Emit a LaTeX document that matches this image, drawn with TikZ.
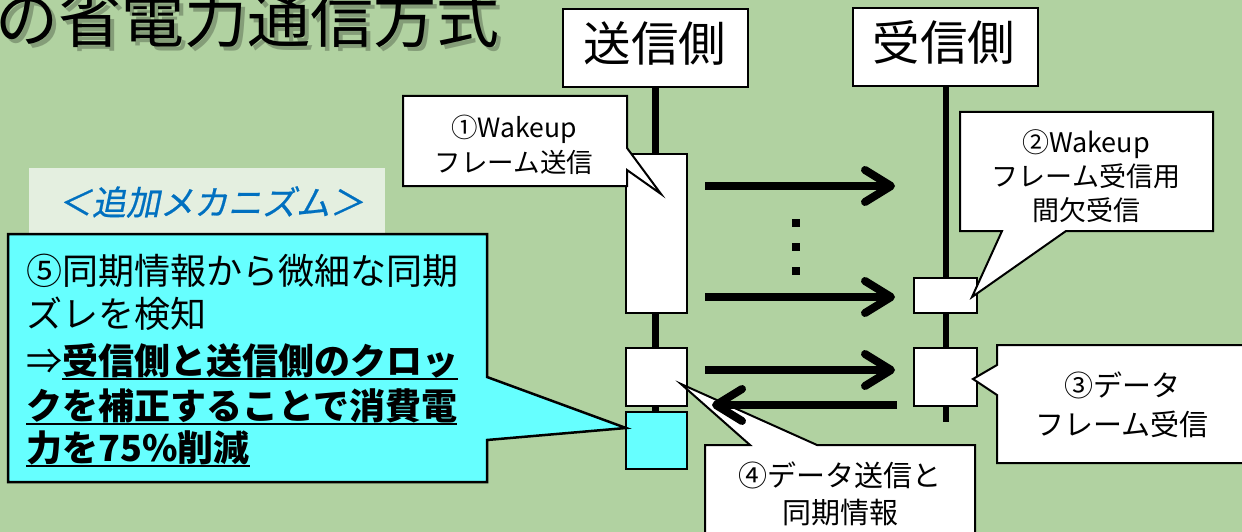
\documentclass[tikz,border=0pt]{standalone}
\usepackage{fontspec}
\setmainfont{Noto Sans CJK JP}
\newfontfamily\jpit[FakeSlant=0.2,FakeBold=0.6]{Noto Sans CJK JP}
\usetikzlibrary{arrows.meta}
\definecolor{bg}{RGB}{177,210,161}
\definecolor{cyanfill}{RGB}{102,255,255}
\definecolor{labelbg}{RGB}{228,239,224}
\definecolor{labelblue}{RGB}{0,112,192}
\newcommand{\myunder}[1]{\setbox0\hbox{#1}\rlap{\rule[-6pt]{\wd0}{2pt}}\box0}
\tikzset{
  hdrbox/.style={draw=black,line width=2pt,fill=white,minimum width=185pt,minimum height=78pt,inner sep=0pt},
  hdrtext/.style={inner sep=0pt,font=\fontsize{47.5}{47.5}\selectfont},
  life/.style={line width=6.5pt},
  actbox/.style={draw=black,line width=2.2pt,fill=white,inner sep=0pt},
  callout/.style={draw=black,line width=2pt,fill=white,line join=miter},
  ctext/.style={inner sep=0pt,align=center},
  msg/.style={line width=8pt,-{Straight Barb[length=26pt,width=32pt,round]}},
  five/.style={inner sep=0pt,anchor=base west,font=\fontsize{36}{36}\selectfont},
}
\begin{document}
\begin{tikzpicture}[x=1pt,y=-1pt]
\clip (0,0) rectangle (1242,532);
\fill[bg] (0,0) rectangle (1242,532);
% title with shadow
\node[anchor=base east,inner sep=0pt,text=black,opacity=0.25,font=\fontsize{63}{63}\selectfont] (titleshadow) at (503.5,46.5) {の省電力通信方式};
\node[anchor=base east,inner sep=0pt,font=\fontsize{63}{63}\selectfont] (title) at (500,43) {の省電力通信方式};
% headers
\node[hdrbox] (sendhdr) at (655.5,48) {};
\node[hdrtext] (sendtxt) at (655,43) {送信側};
\node[hdrbox] (recvhdr) at (945,47) {};
\node[hdrtext] (recvtxt) at (944,42) {受信側};
% lifelines
\coordinate (sendend) at (655.5,440);
\coordinate (recvend) at (946,422);
\draw[life] (sendhdr.south) -- (sendend);
\draw[life] (946,86) -- (recvend);
% activation boxes
\node[actbox,minimum width=61pt,minimum height=159pt] (sb1) at (656.5,233.5) {};
\node[actbox,minimum width=61pt,minimum height=58pt] (sb2) at (656.5,377) {};
\node[actbox,fill=cyanfill,minimum width=61pt,minimum height=57pt] (sb3) at (656.5,440.5) {};
\node[actbox,minimum width=63pt,minimum height=35pt] (rb1) at (945.5,295.5) {};
\node[actbox,minimum width=63pt,minimum height=58pt] (rb2) at (945.5,377) {};
% mechanism label
\node[fill=labelbg,minimum width=356pt,minimum height=65pt,inner sep=0pt] (mechbox) at (207,200.5) {};
\node[inner sep=0pt,text=labelblue,font=\jpit\fontsize{34}{34}\selectfont] (mechtxt) at (211,202) {＜追加メカニズム＞};
% callout 5
\draw[callout,fill=cyanfill,line width=2.5pt] (8,234) -- (487,234) -- (487,377) -- (626,428) -- (487,440) -- (487,482) -- (8,482) -- cycle;
% callout 1
\draw[callout] (403,96) -- (627,96) -- (627,148) -- (661,194) -- (627,170) -- (627,186) -- (403,186) -- cycle;
% callout 2
\draw[callout] (960,112) -- (1213,112) -- (1213,231) -- (1066,231) -- (972,297) -- (1002,231) -- (960,231) -- cycle;
% callout 3
\draw[callout] (997,345) -- (1252,345) -- (1252,463) -- (997,463) -- (997,395) -- (973,379) -- (997,365) -- cycle;
% callout 4
\draw[callout] (705,445) -- (750,445) -- (681,384) -- (817,445) -- (975,445) -- (975,545) -- (705,545) -- cycle;
% arrows
\coordinate (a1s) at (705,186); \coordinate (a1e) at (895,186);
\coordinate (a2s) at (705,297); \coordinate (a2e) at (895,297);
\coordinate (a3s) at (705,370); \coordinate (a3e) at (895,370);
\coordinate (a4s) at (897,405); \coordinate (a4e) at (712,405);
\draw[msg] (a1s) -- (a1e);
\draw[msg] (a2s) -- (a2e);
\draw[msg] (a3s) -- (a3e);
\draw[msg] (a4s) -- (a4e);
% dots
\foreach \yy in {223,247,271} \fill (792,\yy-4) rectangle (800,\yy+4);
% callout texts
\node[ctext,font=\fontsize{26.5}{35}\selectfont] (t1) at (514,145) {①Wakeup\\フレーム送信};
\node[ctext,font=\fontsize{27}{34}\selectfont] (t2) at (1086,176) {②Wakeup\\フレーム受信用\\間欠受信};
\node[ctext,font=\fontsize{29}{38.5}\selectfont] (t3) at (1122,405) {③データ\\フレーム受信};
\node[ctext,font=\fontsize{29}{37}\selectfont] (t4) at (840,494) {④データ送信と\\同期情報};
% callout 5 text
\node[five] (t5a) at (26,284) {⑤同期情報から微細な同期};
\node[five] (t5b) at (26,327) {ズレを検知};
\node[five] (t5c) at (26,374) {⇒\bfseries\myunder{受信側と送信側のクロッ}};
\node[five] (t5d) at (26,419) {\bfseries\myunder{クを補正することで消費電}};
\node[five] (t5e) at (26,461) {\bfseries\myunder{力を75\%削減}};
\end{tikzpicture}
\end{document}
